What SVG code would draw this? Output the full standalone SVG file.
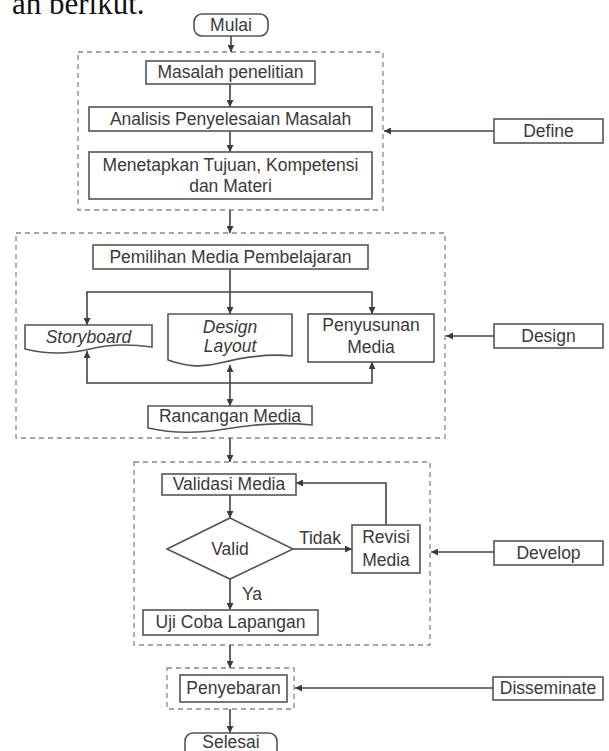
<svg xmlns="http://www.w3.org/2000/svg" width="609" height="751" viewBox="0 0 609 751">
<defs>
<marker id="ah" viewBox="0 0 10 10" refX="10" refY="5" markerWidth="7" markerHeight="7" orient="auto-start-reverse" markerUnits="userSpaceOnUse">
<path d="M0,0 L10,5 L0,10 Z" fill="#3c3c3c"/>
</marker>
<style>
.box{fill:#fff;stroke:#555;stroke-width:1.6}
.dash{fill:none;stroke:#888;stroke-width:1.3;stroke-dasharray:5,4}
.ln{fill:none;stroke:#444;stroke-width:1.6}
.t{font-family:"Liberation Sans",Arial,sans-serif;font-size:17.5px;fill:#3a3a3a;text-anchor:middle}
.i{font-style:italic}
</style>
</defs>
<rect width="609" height="751" fill="#fff"/>
<text x="12" y="14" style="font-family:'Liberation Serif','Times New Roman',serif;font-size:31px;fill:#111">ah berikut.</text>

<g id="groups">
<rect class="dash" x="78" y="52" width="305" height="158"/>
<rect class="dash" x="16" y="233" width="429" height="205"/>
<rect class="dash" x="134" y="462" width="296" height="183"/>
<rect class="dash" x="167" y="668" width="127" height="41"/>
</g>

<g id="connectors">
<line class="ln" x1="231" y1="36" x2="231" y2="52" marker-end="url(#ah)"/>
<line class="ln" x1="230" y1="84" x2="230" y2="107" marker-end="url(#ah)"/>
<line class="ln" x1="230" y1="131" x2="230" y2="152" marker-end="url(#ah)"/>
<line class="ln" x1="494" y1="131" x2="384" y2="131" marker-end="url(#ah)"/>
<line class="ln" x1="230" y1="210" x2="230" y2="233" marker-end="url(#ah)"/>
<line class="ln" x1="230" y1="269" x2="230" y2="314" marker-end="url(#ah)"/>
<polyline class="ln" points="87,325 87,292 372,292 372,314" marker-start="url(#ah)" marker-end="url(#ah)"/>
<polyline class="ln" points="87,351 87,383 372,383 372,362" marker-start="url(#ah)" marker-end="url(#ah)"/>
<line class="ln" x1="230" y1="365" x2="230" y2="406" marker-start="url(#ah)" marker-end="url(#ah)"/>
<line class="ln" x1="494" y1="336" x2="446" y2="336" marker-end="url(#ah)"/>
<line class="ln" x1="230" y1="438" x2="230" y2="462" marker-end="url(#ah)"/>
<line class="ln" x1="230" y1="495" x2="230" y2="518" marker-end="url(#ah)"/>
<line class="ln" x1="293" y1="549" x2="352" y2="549" marker-end="url(#ah)"/>
<polyline class="ln" points="386,525 386,483 296,483" marker-end="url(#ah)"/>
<line class="ln" x1="230" y1="579" x2="230" y2="610" marker-end="url(#ah)"/>
<line class="ln" x1="494" y1="552" x2="431" y2="552" marker-end="url(#ah)"/>
<line class="ln" x1="230" y1="645" x2="230" y2="668" marker-end="url(#ah)"/>
<line class="ln" x1="493" y1="688" x2="295" y2="688" marker-end="url(#ah)"/>
<line class="ln" x1="230" y1="709" x2="230" y2="733" marker-end="url(#ah)"/>
<text class="t" x="320" y="544">Tidak</text>
<text class="t" x="242" y="600" style="text-anchor:start">Ya</text>
</g>

<g id="mulai"><rect class="box" x="194" y="14" width="74" height="22" rx="8"/><text class="t" x="231" y="31">Mulai</text></g>
<g id="masalah"><rect class="box" x="146" y="61" width="169" height="23"/><text class="t" x="230.5" y="78">Masalah penelitian</text></g>
<g id="analisis"><rect class="box" x="89" y="107" width="283" height="24"/><text class="t" x="230.5" y="125">Analisis Penyelesaian Masalah</text></g>
<g id="menetapkan"><rect class="box" x="89" y="152" width="283" height="47"/><text class="t" x="230.5" y="171">Menetapkan Tujuan, Kompetensi</text><text class="t" x="230.5" y="192">dan Materi</text></g>
<g id="define"><rect class="box" x="494" y="119" width="109" height="24"/><text class="t" x="548.5" y="137">Define</text></g>

<g id="pemilihan"><rect class="box" x="93" y="245" width="275" height="24"/><text class="t" x="230.5" y="263">Pemilihan Media Pembelajaran</text></g>
<g id="storyboard"><path class="box" d="M25,325 H152 V347 C130,344 110,344 90,349 C65,355 45,354 25,349 Z"/><text class="t i" x="88.5" y="343">Storyboard</text></g>
<g id="designlayout"><path class="box" d="M168,314 H292 V356 C265,353 240,358 220,363 C200,368 185,366 168,360 Z"/><text class="t i" x="230" y="333">Design</text><text class="t i" x="230" y="352">Layout</text></g>
<g id="penyusunan"><rect class="box" x="308" y="314" width="126" height="48"/><text class="t" x="371" y="331">Penyusunan</text><text class="t" x="371" y="353">Media</text></g>
<g id="design"><rect class="box" x="494" y="324" width="109" height="24"/><text class="t" x="548.5" y="342">Design</text></g>
<g id="rancangan"><path class="box" d="M148,406 H312 V425 C285,422 255,424 225,429 C195,434 170,433 148,428 Z"/><text class="t" x="230" y="422">Rancangan Media</text></g>

<g id="validasi"><rect class="box" x="162" y="474" width="134" height="21"/><text class="t" x="229" y="490">Validasi Media</text></g>
<g id="valid"><polygon class="box" points="230,518 293,549 230,579 167,549"/><text class="t" x="230" y="555">Valid</text></g>
<g id="revisi"><rect class="box" x="352" y="525" width="68" height="48"/><text class="t" x="386" y="543">Revisi</text><text class="t" x="386" y="566">Media</text></g>
<g id="uji"><rect class="box" x="143" y="610" width="175" height="25"/><text class="t" x="230.5" y="628">Uji Coba Lapangan</text></g>
<g id="develop"><rect class="box" x="494" y="541" width="109" height="24"/><text class="t" x="548.5" y="559">Develop</text></g>

<g id="penyebaran"><rect class="box" x="180" y="675" width="107" height="27"/><text class="t" x="233.5" y="694">Penyebaran</text></g>
<g id="disseminate"><rect class="box" x="493" y="677" width="110" height="23"/><text class="t" x="548" y="694">Disseminate</text></g>
<g id="selesai"><rect class="box" x="185" y="733" width="92" height="26" rx="8"/><text class="t" x="231" y="748">Selesai</text></g>
</svg>
